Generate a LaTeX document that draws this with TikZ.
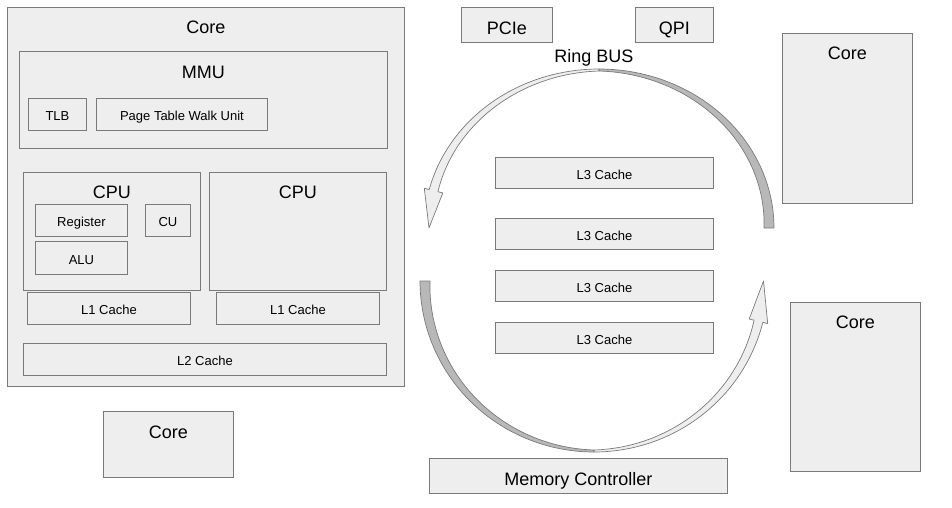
\documentclass[tikz,border=0pt]{standalone}
\usepackage{fontspec}
\setmainfont{Liberation Sans}
\definecolor{boxfill}{HTML}{EEEEEE}
\definecolor{boxline}{HTML}{7A7A7A}
\definecolor{darkband}{HTML}{B8B8B8}
\tikzset{
  box/.style={draw=boxline, fill=boxfill, line width=0.9pt, inner sep=0pt, anchor=north west},
  smalltxt/.style={font=\fontsize{13}{15}\selectfont, text=black},
  bigtxt/.style={font=\fontsize{18}{21}\selectfont, text=black},
  smallin/.style={smalltxt, text height=12.3pt, text depth=0pt},
  bigin/.style={bigtxt, text height=19pt, text depth=0pt},
  band/.style={draw=boxline, line width=0.7pt, line join=round},
}
\begin{document}
\begin{tikzpicture}[x=1pt,y=-1pt]
\useasboundingbox (0,0) rectangle (952,508);
% main core
\node[box, minimum width=397pt, minimum height=379pt] (core) at (7,7) {};
\node[bigtxt] (coreT) at ([yshift=-20pt]core.north) {Core};
\node[box, minimum width=368pt, minimum height=97pt] (mmu) at (19,51) {};
\node[bigtxt] (mmuT) at ([yshift=-21pt]mmu.north) {MMU};
\node[box, smallin, minimum width=58pt, minimum height=32pt] (tlb) at (28,98) {TLB};
\node[box, smallin, minimum width=171pt, minimum height=32pt] (ptwu) at (96,98) {Page Table Walk Unit};
\node[box, minimum width=177pt, minimum height=118pt] (cpua) at (23,172) {};
\node[bigtxt] (cpuaT) at ([yshift=-20pt]cpua.north) {CPU};
\node[box, smallin, minimum width=92pt, minimum height=32pt] (reg) at (35,204) {Register};
\node[box, smallin, minimum width=45pt, minimum height=32pt] (cu) at (145,204) {CU};
\node[box, smallin, minimum width=92pt, minimum height=33pt] (alu) at (35,241) {ALU};
\node[box, minimum width=177pt, minimum height=118pt] (cpub) at (209,172) {};
\node[bigtxt] (cpubT) at ([yshift=-20pt]cpub.north) {CPU};
\node[box, smallin, minimum width=163pt, minimum height=32pt] (l1a) at (27,292) {L1 Cache};
\node[box, smallin, minimum width=163pt, minimum height=32pt] (l1b) at (216,292) {L1 Cache};
\node[box, smallin, minimum width=363pt, minimum height=32pt] (l2) at (23,343) {L2 Cache};
% other cores
\node[box, minimum width=130pt, minimum height=66pt] (coreb) at (103,411) {};
\node[bigtxt] (corebT) at ([yshift=-21pt]coreb.north) {Core};
\node[box, minimum width=130pt, minimum height=170pt] (corec) at (782,33) {};
\node[bigtxt] (corecT) at ([yshift=-20pt]corec.north) {Core};
\node[box, minimum width=130pt, minimum height=169pt] (cored) at (790,302) {};
\node[bigtxt] (coredT) at ([yshift=-20pt]cored.north) {Core};
% uncore
\node[box, bigin, minimum width=91pt, minimum height=35pt] (pcie) at (461,7) {PCIe};
\node[box, bigin, minimum width=78pt, minimum height=35pt] (qpi) at (635,7) {QPI};
\node[bigtxt] (ring) at (594,58) {Ring BUS};
\node[box, smallin, minimum width=218pt, minimum height=31pt] (l3a) at (495,157) {L3 Cache};
\node[box, smallin, minimum width=218pt, minimum height=31pt] (l3b) at (495,218) {L3 Cache};
\node[box, smallin, minimum width=218pt, minimum height=31pt] (l3c) at (495,270) {L3 Cache};
\node[box, smallin, minimum width=218pt, minimum height=31pt] (l3d) at (495,322) {L3 Cache};
\node[box, bigin, minimum width=298pt, minimum height=35pt] (mc) at (429,458) {Memory Controller};
% top ring arrow (right tail dark, left head light)
\filldraw[band, fill=darkband]
  plot[domain=0:90, samples=60, variable=\t] ({599+175*cos(\t)},{228-159*sin(\t)})
  -- plot[domain=90:0, samples=60, variable=\t] ({599+(175-(10-8*\t/90))*cos(\t)},{228-(159-(10-8*\t/90))*sin(\t)})
  -- cycle;
\filldraw[band, fill=boxfill]
  plot[domain=90:166, samples=60, variable=\t] ({599+175*cos(\t)},{228-159*sin(\t)})
  -- (424.3,188.3) -- (429,228) -- (442.8,192.9)
  -- plot[domain=166:90, samples=60, variable=\t] ({599+(175-(2+7*(\t-90)/76))*cos(\t)},{228-(159-(2+7*(\t-90)/76))*sin(\t)})
  -- cycle;
% bottom ring arrow (left tail dark, right head light)
\filldraw[band, fill=darkband]
  plot[domain=0:90, samples=60, variable=\t] ({594-174*cos(\t)},{281+171*sin(\t)})
  -- plot[domain=90:0, samples=60, variable=\t] ({594-(174-(10-8*\t/90))*cos(\t)},{281+(171-(10-8*\t/90))*sin(\t)})
  -- cycle;
\filldraw[band, fill=boxfill]
  plot[domain=90:166, samples=60, variable=\t] ({594-174*cos(\t)},{281+171*sin(\t)})
  -- (767.7,323.6) -- (763.5,281) -- (749.2,319)
  -- plot[domain=166:90, samples=60, variable=\t] ({594-(174-(2+7*(\t-90)/76))*cos(\t)},{281+(171-(2+7*(\t-90)/76))*sin(\t)})
  -- cycle;
\end{tikzpicture}
\end{document}
